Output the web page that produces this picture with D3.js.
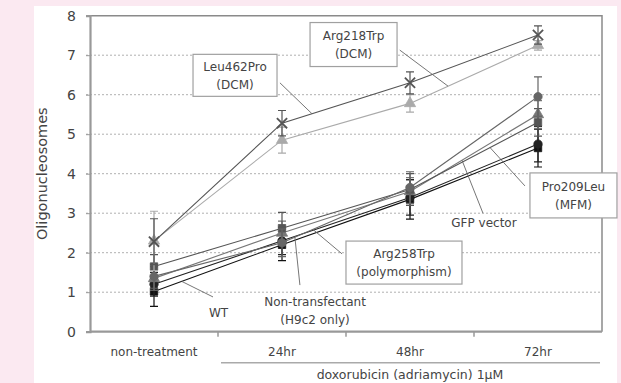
<!DOCTYPE html>
<html>
<head>
<meta charset="utf-8">
<script src="https://cdn.jsdelivr.net/npm/d3@7"></script>
<style>
  html, body { margin: 0; padding: 0; background: #fbe9f1; }
  svg { display: block; }
  text { font-family: "DejaVu Sans", sans-serif; fill: #444; }
  .grid line { stroke: #b0b0b0; stroke-dasharray: 2 2; stroke-width: 1; }
  .lbl { font-size: 12px; }
  .box { fill: #fff; stroke: #a0a0a0; stroke-width: 1.2; }
  .leader { stroke: #666; stroke-width: 0.9; fill: none; }
</style>
</head>
<body>
<svg id="chart" width="621" height="383"></svg>
<script>
// categories and tick labels
const categories = ['non-treatment', '24hr', '48hr', '72hr'];
const yTicks = [0, 1, 2, 3, 4, 5, 6, 7, 8];

// series means
const arg218Trp = [2.28, 5.28, 6.30, 7.51];
const leu462Pro = [2.30, 4.85, 5.78, 7.25];
const arg258Trp = [1.40, 2.25, 3.65, 5.95];
const gfpVector = [1.35, 2.50, 3.55, 5.50];
const pro209Leu = [1.65, 2.62, 3.60, 5.30];
const nonTransfectant = [1.20, 2.30, 3.40, 4.75];
const wt = [1.02, 2.20, 3.35, 4.65];

// error bars (SD)
const arg218TrpErr = [0.58, 0.32, 0.28, 0.23];
const leu462ProErr = [0.75, 0.33, 0.22, 0.12];
const arg258TrpErr = [0.30, 0.35, 0.40, 0.50];
const gfpVectorErr = [0.30, 0.30, 0.35, 0.35];
const pro209LeuErr = [0.30, 0.40, 0.40, 0.35];
const nonTransfectantErr = [0.30, 0.35, 0.45, 0.45];
const wtErr = [0.38, 0.40, 0.50, 0.48];

const series = [
  { name: 'WT', values: wt, err: wtErr, color: '#111', symbol: d3.symbolSquare },
  { name: 'Non-transfectant', values: nonTransfectant, err: nonTransfectantErr, color: '#222', symbol: d3.symbolCircle },
  { name: 'GFP vector', values: gfpVector, err: gfpVectorErr, color: '#777', symbol: d3.symbolTriangle },
  { name: 'Pro209Leu', values: pro209Leu, err: pro209LeuErr, color: '#555', symbol: d3.symbolSquare },
  { name: 'Arg258Trp', values: arg258Trp, err: arg258TrpErr, color: '#666', symbol: d3.symbolCircle },
  { name: 'Leu462Pro', values: leu462Pro, err: leu462ProErr, color: '#aaa', symbol: d3.symbolTriangle },
  { name: 'Arg218Trp', values: arg218Trp, err: arg218TrpErr, color: '#555', symbol: d3.symbolX }
];

const svg = d3.select('#chart');
const plot = { left: 90, right: 602, top: 15.7, bottom: 331.7 };

// white panel
svg.append('rect').attr('x', 34).attr('y', 6).attr('width', 583).attr('height', 380).attr('fill', '#fff');

const x = d3.scaleBand().domain(categories).range([plot.left, plot.right]);
const y = d3.scaleLinear().domain([0, 8]).range([plot.bottom, plot.top]);
const cx = i => x(categories[i]) + x.bandwidth() / 2;
// fractional band position -> pixel
const fx = f => plot.left + f * x.step();

// gridlines
svg.append('g').attr('class', 'grid')
  .selectAll('line').data(yTicks.filter(t => t > 0 && t < 8)).join('line')
  .attr('x1', plot.left - 4).attr('x2', plot.right)
  .attr('y1', d => y(d)).attr('y2', d => y(d));

// frame: top/right thin
svg.append('path')
  .attr('d', `M${plot.left},${y(8)}H${plot.right}V${y(0)}`)
  .attr('fill', 'none').attr('stroke', '#8a8a8a').attr('stroke-width', 1.5);

// y axis
const yAxis = svg.append('g').attr('transform', `translate(${plot.left},0)`)
  .call(d3.axisLeft(y).tickValues(yTicks).tickSize(4).tickPadding(10));
yAxis.select('.domain').attr('stroke', '#999').attr('stroke-width', 2.2);
yAxis.selectAll('.tick line').attr('stroke', '#999');
yAxis.selectAll('.tick text').attr('font-size', 14).attr('fill', '#444')
  .attr('font-family', '"DejaVu Sans", sans-serif');

// x axis: ticks at band boundaries
const xg = svg.append('g').attr('transform', `translate(0,${plot.bottom})`);
xg.append('line').attr('x1', plot.left).attr('x2', plot.right)
  .attr('stroke', '#999').attr('stroke-width', 2.2);
xg.selectAll('.bt').data(categories.slice(1)).join('line')
  .attr('x1', d => x(d)).attr('x2', d => x(d)).attr('y1', 0).attr('y2', 5)
  .attr('stroke', '#999').attr('stroke-width', 1.5);
xg.selectAll('.xl').data(categories).join('text')
  .attr('class', 'lbl')
  .attr('x', (d, i) => cx(i)).attr('y', 24).attr('text-anchor', 'middle')
  .attr('font-size', 11.5).text(d => d);

// treatment bracket
svg.append('line').attr('x1', x(categories[1]) + 3).attr('x2', plot.right - 2)
  .attr('y1', 362.7).attr('y2', 362.7).attr('stroke', '#aaa').attr('stroke-width', 1.5);
svg.append('text').attr('x', fx(2.5)).attr('y', 378.5).attr('text-anchor', 'middle')
  .attr('font-size', 12.5).text('doxorubicin (adriamycin) 1\u03bcM');

// y label
svg.append('text').attr('transform', `translate(47,${(plot.top + plot.bottom) / 2}) rotate(-90)`)
  .attr('text-anchor', 'middle').attr('font-size', 14.5).text('Oligonucleosomes');

// lines, error bars, markers
const line = d3.line().x((d, i) => cx(i)).y(d => y(d));
const sg = svg.append('g').selectAll('g').data(series).join('g');

sg.append('path').attr('d', d => line(d.values))
  .attr('fill', 'none').attr('stroke', d => d.color).attr('stroke-width', 1.1);

sg.each(function (s) {
  const g = d3.select(this);
  s.values.forEach((v, i) => {
    const px = cx(i), lo = y(v - s.err[i]), hi = y(v + s.err[i]);
    g.append('path')
      .attr('d', `M${px},${lo}V${hi}M${px - 4},${lo}H${px + 4}M${px - 4},${hi}H${px + 4}`)
      .attr('stroke', s.color).attr('stroke-width', 1.2).attr('fill', 'none');
  });
  g.selectAll('.m').data(s.values).join('path')
    .attr('transform', (v, i) => `translate(${cx(i)},${y(v)})`)
    .attr('d', d3.symbol().type(s.symbol).size(s.symbol === d3.symbolX ? 70 : 55))
    .attr('fill', s.symbol === d3.symbolX ? 'none' : s.color)
    .attr('stroke', s.color).attr('stroke-width', s.symbol === d3.symbolX ? 1.8 : 0.8);
});

// annotations: positions as [band fraction, value]
const byName = Object.fromEntries(series.map(s => [s.name, s]));
const notes = [
  { lines: ['Leu462Pro', '(DCM)'], at: [1.133, 6.49], box: [84, 42], from: [1.484, 6.30], to: ['Arg218Trp', 1, 0.234] },
  { lines: ['Arg218Trp', '(DCM)'], at: [2.059, 7.27], box: [87, 44], from: [2.42, 7.13], to: ['Leu462Pro', 2, 0.297] },
  { lines: ['Pro209Leu', '(MFM)'], at: [3.777, 3.45], box: [87, 45], from: [3.398, 3.69], to: ['Pro209Leu', 2, 0.625] },
  { lines: ['GFP vector'], at: [3.078, 2.76], from: [3.07, 3.0], to: ['GFP vector', 2, 0.406] },
  { lines: ['Arg258Trp', '(polymorphism)'], at: [2.453, 1.75], box: [116, 43], from: [1.969, 1.97], to: ['Arg258Trp', 1, 0.242] },
  { lines: ['WT'], at: [1.004, 0.47], from: [0.961, 0.88], to: ['WT', 0, 0.216] },
  { lines: ['Non-transfectant', '(H9c2 only)'], at: [1.758, 0.52], from: [1.64, 1.18], to: ['Non-transfectant', 1, 0.1] }
];

const ng = svg.append('g');
notes.forEach(n => {
  const s = byName[n.to[0]], seg = n.to[1], t = n.to[2];
  const tx = cx(seg) + t * (cx(seg + 1) - cx(seg));
  const tv = s.values[seg] + t * (s.values[seg + 1] - s.values[seg]);
  ng.append('line').attr('class', 'leader')
    .attr('x1', fx(n.from[0])).attr('y1', y(n.from[1]))
    .attr('x2', tx).attr('y2', y(tv));
  const px = fx(n.at[0]), py = y(n.at[1]);
  if (n.box) {
    ng.append('rect').attr('class', 'box')
      .attr('x', px - n.box[0] / 2).attr('y', py - n.box[1] / 2)
      .attr('width', n.box[0]).attr('height', n.box[1]);
  }
  const h = 18, y0 = py - (n.lines.length - 1) * h / 2;
  n.lines.forEach((l, k) => {
    ng.append('text').attr('class', 'lbl')
      .attr('x', px).attr('y', y0 + k * h).attr('dy', '0.35em')
      .attr('text-anchor', 'middle').attr('font-size', 12).text(l);
  });
});
</script>
</body>
</html>
